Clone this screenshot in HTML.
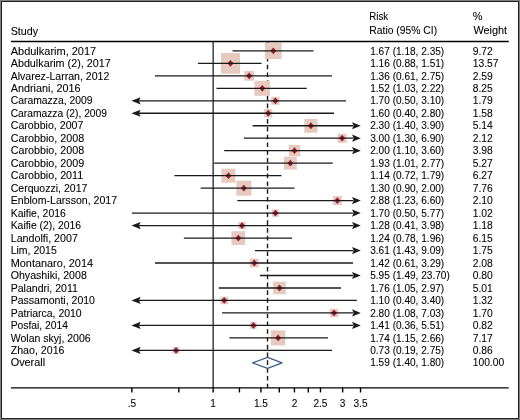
<!DOCTYPE html>
<html><head><meta charset="utf-8"><style>
html,body{margin:0;padding:0;background:#fff;}
body{width:520px;height:420px;overflow:hidden;}
svg{display:block;will-change:transform;}
text{font-family:"Liberation Sans",sans-serif;font-size:10.3px;fill:#000;stroke:#000;stroke-width:0.08px;}
</style></head><body>
<svg width="520" height="420" viewBox="0 0 520 420">
<rect x="0" y="0" width="520" height="420" fill="#fff"/>
<line x1="213.15" y1="41.3" x2="213.15" y2="387.85" stroke="#2a2a2a" stroke-width="1.35"/>
<line x1="267.53" y1="41.3" x2="267.53" y2="387.85" stroke="#1a1a1a" stroke-width="1.4" stroke-dasharray="4.6 3.182" stroke-dashoffset="0"/>
<g fill="#e6c9bf"><rect x="264.92" y="42.61" width="16.75" height="16.50"/><rect x="220.95" y="53.04" width="19.05" height="20.60"/><rect x="244.31" y="70.96" width="9.73" height="9.73"/><rect x="254.49" y="80.80" width="15.50" height="15.00"/><rect x="271.29" y="96.83" width="8.20" height="7.90"/><rect x="264.17" y="109.11" width="8.20" height="8.30"/><rect x="304.36" y="118.79" width="13.10" height="13.90"/><rect x="337.61" y="133.71" width="9.03" height="9.03"/><rect x="288.74" y="144.96" width="11.49" height="11.49"/><rect x="283.87" y="156.75" width="12.86" height="12.86"/><rect x="221.49" y="168.61" width="13.90" height="14.10"/><rect x="236.32" y="180.64" width="15.10" height="15.00"/><rect x="332.83" y="196.12" width="8.99" height="8.99"/><rect x="271.89" y="209.45" width="7.00" height="7.30"/><rect x="238.38" y="221.91" width="7.34" height="7.34"/><rect x="231.46" y="231.21" width="13.70" height="13.70"/><rect x="249.76" y="258.54" width="8.96" height="8.96"/><rect x="273.17" y="281.68" width="12.60" height="12.60"/><rect x="220.43" y="296.65" width="7.62" height="7.62"/><rect x="329.86" y="308.78" width="8.33" height="8.33"/><rect x="250.16" y="322.02" width="6.50" height="6.80"/><rect x="270.95" y="330.35" width="14.35" height="15.10"/><rect x="172.76" y="347.07" width="6.61" height="6.61"/></g>
<g fill="#9e1b36"><path d="M270.30 50.86 L273.30 47.46 L276.30 50.86 L273.30 54.26 Z"/><path d="M227.48 63.34 L230.48 59.94 L233.48 63.34 L230.48 66.74 Z"/><path d="M246.17 75.82 L249.17 72.42 L252.17 75.82 L249.17 79.22 Z"/><path d="M259.24 88.30 L262.24 84.90 L265.24 88.30 L262.24 91.70 Z"/><path d="M272.39 100.78 L275.39 97.38 L278.39 100.78 L275.39 104.18 Z"/><path d="M265.27 113.26 L268.27 109.86 L271.27 113.26 L268.27 116.66 Z"/><path d="M307.91 125.74 L310.91 122.34 L313.91 125.74 L310.91 129.14 Z"/><path d="M339.13 138.22 L342.13 134.82 L345.13 138.22 L342.13 141.62 Z"/><path d="M291.48 150.70 L294.48 147.30 L297.48 150.70 L294.48 154.10 Z"/><path d="M287.30 163.18 L290.30 159.78 L293.30 163.18 L290.30 166.58 Z"/><path d="M225.44 175.66 L228.44 172.26 L231.44 175.66 L228.44 179.06 Z"/><path d="M240.87 188.14 L243.87 184.74 L246.87 188.14 L243.87 191.54 Z"/><path d="M334.33 200.62 L337.33 197.22 L340.33 200.62 L337.33 204.02 Z"/><path d="M272.39 213.10 L275.39 209.70 L278.39 213.10 L275.39 216.50 Z"/><path d="M239.05 225.58 L242.05 222.18 L245.05 225.58 L242.05 228.98 Z"/><path d="M235.32 238.06 L238.32 234.66 L241.32 238.06 L238.32 241.46 Z"/><path d="M251.24 263.02 L254.24 259.62 L257.24 263.02 L254.24 266.42 Z"/><path d="M276.46 287.98 L279.46 284.58 L282.46 287.98 L279.46 291.38 Z"/><path d="M221.24 300.46 L224.24 297.06 L227.24 300.46 L224.24 303.86 Z"/><path d="M331.02 312.94 L334.02 309.54 L337.02 312.94 L334.02 316.34 Z"/><path d="M250.41 325.42 L253.41 322.02 L256.41 325.42 L253.41 328.82 Z"/><path d="M275.12 337.90 L278.12 334.50 L281.12 337.90 L278.12 341.30 Z"/><path d="M173.06 350.38 L176.06 346.98 L179.06 350.38 L176.06 353.78 Z"/></g>
<g stroke="#1a1a1a" stroke-width="1.3"><line x1="232.49" y1="50.86" x2="313.43" y2="50.86"/><line x1="198.02" y1="63.34" x2="261.46" y2="63.34"/><line x1="154.96" y1="75.82" x2="331.90" y2="75.82"/><line x1="216.51" y1="88.30" x2="306.75" y2="88.30"/><line x1="138.83" y1="100.78" x2="345.98" y2="100.78"/><line x1="138.83" y1="113.26" x2="334.02" y2="113.26"/><line x1="252.58" y1="125.74" x2="353.30" y2="125.74"/><line x1="243.87" y1="138.22" x2="353.30" y2="138.22"/><line x1="224.24" y1="150.70" x2="353.30" y2="150.70"/><line x1="214.21" y1="163.18" x2="332.75" y2="163.18"/><line x1="174.44" y1="175.66" x2="281.45" y2="175.66"/><line x1="200.66" y1="188.14" x2="294.48" y2="188.14"/><line x1="237.36" y1="200.62" x2="353.30" y2="200.62"/><line x1="131.83" y1="213.10" x2="353.30" y2="213.10"/><line x1="138.83" y1="225.58" x2="353.30" y2="225.58"/><line x1="183.85" y1="238.06" x2="292.11" y2="238.06"/><line x1="255.07" y1="250.54" x2="353.30" y2="250.54"/><line x1="154.96" y1="263.02" x2="352.97" y2="263.02"/><line x1="259.90" y1="275.50" x2="353.30" y2="275.50"/><line x1="218.77" y1="287.98" x2="340.95" y2="287.98"/><line x1="138.83" y1="300.46" x2="356.83" y2="300.46"/><line x1="222.08" y1="312.94" x2="353.30" y2="312.94"/><line x1="138.83" y1="325.42" x2="353.30" y2="325.42"/><line x1="229.46" y1="337.90" x2="327.99" y2="337.90"/><line x1="138.83" y1="350.38" x2="331.90" y2="350.38"/></g>
<g fill="#1a1a1a"><path d="M131.43 100.78 L140.63 97.18 L138.93 100.78 L140.63 104.38 Z"/><path d="M131.43 113.26 L140.63 109.66 L138.93 113.26 L140.63 116.86 Z"/><path d="M360.80 125.74 L352.00 122.14 L353.70 125.74 L352.00 129.34 Z"/><path d="M360.80 138.22 L352.00 134.62 L353.70 138.22 L352.00 141.82 Z"/><path d="M360.80 150.70 L352.00 147.10 L353.70 150.70 L352.00 154.30 Z"/><path d="M360.80 200.62 L352.00 197.02 L353.70 200.62 L352.00 204.22 Z"/><path d="M360.80 213.10 L352.00 209.50 L353.70 213.10 L352.00 216.70 Z"/><path d="M131.43 225.58 L140.63 221.98 L138.93 225.58 L140.63 229.18 Z"/><path d="M360.80 225.58 L352.00 221.98 L353.70 225.58 L352.00 229.18 Z"/><path d="M360.80 250.54 L352.00 246.94 L353.70 250.54 L352.00 254.14 Z"/><path d="M360.80 275.50 L352.00 271.90 L353.70 275.50 L352.00 279.10 Z"/><path d="M131.43 300.46 L140.63 296.86 L138.93 300.46 L140.63 304.06 Z"/><path d="M360.80 312.94 L352.00 309.34 L353.70 312.94 L352.00 316.54 Z"/><path d="M131.43 325.42 L140.63 321.82 L138.93 325.42 L140.63 329.02 Z"/><path d="M360.80 325.42 L352.00 321.82 L353.70 325.42 L352.00 329.02 Z"/><path d="M131.43 350.38 L140.63 346.78 L138.93 350.38 L140.63 353.98 Z"/></g>
<g fill="none" stroke="#3d5f8c" stroke-width="1.3" stroke-linejoin="round"><path d="M252.58 362.86 L267.53 357.36 L282.10 362.86 L267.53 368.36 Z"/></g>
<g stroke="#000" stroke-width="1.4">
<line x1="11" y1="41.45" x2="508.7" y2="41.45"/>
<line x1="11" y1="387.85" x2="508.7" y2="387.85"/>
<line x1="131.86" y1="387.85" x2="131.86" y2="392.45"/><line x1="178.80" y1="387.85" x2="178.80" y2="392.45"/><line x1="213.15" y1="387.85" x2="213.15" y2="392.45"/><line x1="239.43" y1="387.85" x2="239.43" y2="392.45"/><line x1="260.94" y1="387.85" x2="260.94" y2="392.45"/><line x1="279.30" y1="387.85" x2="279.30" y2="392.45"/><line x1="294.43" y1="387.85" x2="294.43" y2="392.45"/><line x1="308.30" y1="387.85" x2="308.30" y2="392.45"/><line x1="320.47" y1="387.85" x2="320.47" y2="392.45"/><line x1="342.64" y1="387.85" x2="342.64" y2="392.45"/><line x1="360.52" y1="387.85" x2="360.52" y2="392.45"/>
</g>
<text class="t" transform="translate(10.70 34.75) scale(1.0418250950570342 1)" text-anchor="start">Study</text><text class="t" transform="translate(369.30 20.20) scale(0.9449999999999988 1)" text-anchor="start">Risk</text><text class="t" transform="translate(369.30 33.90) scale(1.0044843049327352 1)" text-anchor="start">Ratio (95% CI)</text><text class="t" transform="translate(472.70 20.20) scale(1.056818181818183 1)" text-anchor="start">%</text><text class="t" transform="translate(473.40 34.10) scale(1.0566037735849063 1)" text-anchor="start">Weight</text><text class="t" transform="translate(10.70 54.56) scale(1.0678391959798996 1)" text-anchor="start">Abdulkarim, 2017</text><text class="t" transform="translate(370.20 54.56) scale(0.98 1)" text-anchor="start">1.67 (1.18, 2.35)</text><text class="t" x="472.70" y="54.56" text-anchor="start">9.72</text><text class="t" transform="translate(10.70 67.04) scale(1.0473186119873816 1)" text-anchor="start">Abdulkarim (2), 2017</text><text class="t" transform="translate(370.20 67.04) scale(0.98 1)" text-anchor="start">1.16 (0.88, 1.51)</text><text class="t" x="472.70" y="67.04" text-anchor="start">13.57</text><text class="t" transform="translate(10.70 79.52) scale(1.026123301985371 1)" text-anchor="start">Alvarez-Larran, 2012</text><text class="t" transform="translate(370.20 79.52) scale(0.98 1)" text-anchor="start">1.36 (0.61, 2.75)</text><text class="t" x="472.70" y="79.52" text-anchor="start">2.59</text><text class="t" transform="translate(10.70 92.00) scale(1.053030303030303 1)" text-anchor="start">Andriani, 2016</text><text class="t" transform="translate(370.20 92.00) scale(0.98 1)" text-anchor="start">1.52 (1.03, 2.22)</text><text class="t" x="472.70" y="92.00" text-anchor="start">8.25</text><text class="t" transform="translate(10.70 104.48) scale(1.006188118811881 1)" text-anchor="start">Caramazza, 2009</text><text class="t" transform="translate(370.20 104.48) scale(0.98 1)" text-anchor="start">1.70 (0.50, 3.10)</text><text class="t" x="472.70" y="104.48" text-anchor="start">1.79</text><text class="t" transform="translate(10.70 116.96) scale(0.9968847352024922 1)" text-anchor="start">Caramazza (2), 2009</text><text class="t" transform="translate(370.20 116.96) scale(0.98 1)" text-anchor="start">1.60 (0.40, 2.80)</text><text class="t" x="472.70" y="116.96" text-anchor="start">1.58</text><text class="t" transform="translate(10.70 129.44) scale(1.032904148783977 1)" text-anchor="start">Carobbio, 2007</text><text class="t" transform="translate(370.20 129.44) scale(0.98 1)" text-anchor="start">2.30 (1.40, 3.90)</text><text class="t" x="472.70" y="129.44" text-anchor="start">5.14</text><text class="t" transform="translate(10.70 141.92) scale(1.0442857142857143 1)" text-anchor="start">Carobbio, 2008</text><text class="t" transform="translate(370.20 141.92) scale(0.98 1)" text-anchor="start">3.00 (1.30, 6.90)</text><text class="t" x="472.70" y="141.92" text-anchor="start">2.12</text><text class="t" transform="translate(10.70 154.40) scale(1.0442857142857143 1)" text-anchor="start">Carobbio, 2008</text><text class="t" transform="translate(370.20 154.40) scale(0.98 1)" text-anchor="start">2.00 (1.10, 3.60)</text><text class="t" x="472.70" y="154.40" text-anchor="start">3.98</text><text class="t" transform="translate(10.70 166.88) scale(1.0457796852646637 1)" text-anchor="start">Carobbio, 2009</text><text class="t" transform="translate(370.20 166.88) scale(0.98 1)" text-anchor="start">1.93 (1.01, 2.77)</text><text class="t" x="472.70" y="166.88" text-anchor="start">5.27</text><text class="t" transform="translate(10.70 179.36) scale(1.041907514450867 1)" text-anchor="start">Carobbio, 2011</text><text class="t" transform="translate(370.20 179.36) scale(0.98 1)" text-anchor="start">1.14 (0.72, 1.79)</text><text class="t" x="472.70" y="179.36" text-anchor="start">6.27</text><text class="t" transform="translate(10.70 191.84) scale(1.0228187919463088 1)" text-anchor="start">Cerquozzi, 2017</text><text class="t" transform="translate(370.20 191.84) scale(0.98 1)" text-anchor="start">1.30 (0.90, 2.00)</text><text class="t" x="472.70" y="191.84" text-anchor="start">7.76</text><text class="t" transform="translate(10.70 204.32) scale(1.0271580989330746 1)" text-anchor="start">Enblom-Larsson, 2017</text><text class="t" transform="translate(370.20 204.32) scale(0.98 1)" text-anchor="start">2.88 (1.23, 6.60)</text><text class="t" x="472.70" y="204.32" text-anchor="start">2.10</text><text class="t" transform="translate(10.70 216.80) scale(1.0148423005565863 1)" text-anchor="start">Kaifie, 2016</text><text class="t" transform="translate(370.20 216.80) scale(0.98 1)" text-anchor="start">1.70 (0.50, 5.77)</text><text class="t" x="472.70" y="216.80" text-anchor="start">1.02</text><text class="t" transform="translate(10.70 229.28) scale(1.0086455331412103 1)" text-anchor="start">Kaifie (2), 2016</text><text class="t" transform="translate(370.20 229.28) scale(0.98 1)" text-anchor="start">1.28 (0.41, 3.98)</text><text class="t" x="472.70" y="229.28" text-anchor="start">1.18</text><text class="t" transform="translate(10.70 241.76) scale(1.0389408099688473 1)" text-anchor="start">Landolfi, 2007</text><text class="t" transform="translate(370.20 241.76) scale(0.98 1)" text-anchor="start">1.24 (0.78, 1.96)</text><text class="t" x="472.70" y="241.76" text-anchor="start">6.15</text><text class="t" transform="translate(10.70 254.24) scale(1.0200892857142858 1)" text-anchor="start">Lim, 2015</text><text class="t" transform="translate(370.20 254.24) scale(0.98 1)" text-anchor="start">3.61 (1.43, 9.09)</text><text class="t" x="472.70" y="254.24" text-anchor="start">1.75</text><text class="t" transform="translate(10.70 266.72) scale(1.0579896907216495 1)" text-anchor="start">Montanaro, 2014</text><text class="t" transform="translate(370.20 266.72) scale(0.98 1)" text-anchor="start">1.42 (0.61, 3.29)</text><text class="t" x="472.70" y="266.72" text-anchor="start">2.08</text><text class="t" transform="translate(10.70 279.20) scale(1.0313351498637602 1)" text-anchor="start">Ohyashiki, 2008</text><text class="t" transform="translate(370.20 279.20) scale(0.98 1)" text-anchor="start">5.95 (1.49, 23.70)</text><text class="t" x="472.70" y="279.20" text-anchor="start">0.80</text><text class="t" transform="translate(10.70 291.68) scale(1.0245775729646698 1)" text-anchor="start">Palandri, 2011</text><text class="t" transform="translate(370.20 291.68) scale(0.98 1)" text-anchor="start">1.76 (1.05, 2.97)</text><text class="t" x="472.70" y="291.68" text-anchor="start">5.01</text><text class="t" transform="translate(10.70 304.16) scale(1.0231707317073169 1)" text-anchor="start">Passamonti, 2010</text><text class="t" transform="translate(370.20 304.16) scale(0.98 1)" text-anchor="start">1.10 (0.40, 3.40)</text><text class="t" x="472.70" y="304.16" text-anchor="start">1.32</text><text class="t" transform="translate(10.70 316.64) scale(1.0172910662824206 1)" text-anchor="start">Patriarca, 2010</text><text class="t" transform="translate(370.20 316.64) scale(0.98 1)" text-anchor="start">2.80 (1.08, 7.03)</text><text class="t" x="472.70" y="316.64" text-anchor="start">1.70</text><text class="t" transform="translate(10.70 329.12) scale(1.0035087719298246 1)" text-anchor="start">Posfai, 2014</text><text class="t" transform="translate(370.20 329.12) scale(0.98 1)" text-anchor="start">1.41 (0.36, 5.51)</text><text class="t" x="472.70" y="329.12" text-anchor="start">0.82</text><text class="t" transform="translate(10.70 341.60) scale(1.0231362467866323 1)" text-anchor="start">Wolan skyj, 2006</text><text class="t" transform="translate(370.20 341.60) scale(0.98 1)" text-anchor="start">1.74 (1.15, 2.66)</text><text class="t" x="472.70" y="341.60" text-anchor="start">7.17</text><text class="t" transform="translate(10.70 354.08) scale(1.0329457364341084 1)" text-anchor="start">Zhao, 2016</text><text class="t" transform="translate(370.20 354.08) scale(0.98 1)" text-anchor="start">0.73 (0.19, 2.75)</text><text class="t" x="472.70" y="354.08" text-anchor="start">0.86</text><text class="t" transform="translate(10.70 365.81) scale(1.0564263322884013 1)" text-anchor="start">Overall</text><text class="t" transform="translate(370.20 365.81) scale(0.98 1)" text-anchor="start">1.59 (1.40, 1.80)</text><text class="t" x="472.70" y="365.81" text-anchor="start">100.00</text><text class="t" transform="translate(131.86 406.80) scale(0.98 1)" text-anchor="middle">.5</text><text class="t" transform="translate(213.15 406.80) scale(0.98 1)" text-anchor="middle">1</text><text class="t" transform="translate(260.94 406.80) scale(0.98 1)" text-anchor="middle">1.5</text><text class="t" transform="translate(294.43 406.80) scale(0.98 1)" text-anchor="middle">2</text><text class="t" transform="translate(320.47 406.80) scale(0.98 1)" text-anchor="middle">2.5</text><text class="t" transform="translate(342.64 406.80) scale(0.98 1)" text-anchor="middle">3</text><text class="t" transform="translate(360.52 406.80) scale(0.98 1)" text-anchor="middle">3.5</text>
<rect x="0.5" y="0.5" width="519" height="419" fill="none" stroke="#808080" stroke-width="1"/>
<rect x="1.5" y="1.5" width="517" height="417" fill="none" stroke="#222" stroke-width="1"/>
</svg>
</body></html>
